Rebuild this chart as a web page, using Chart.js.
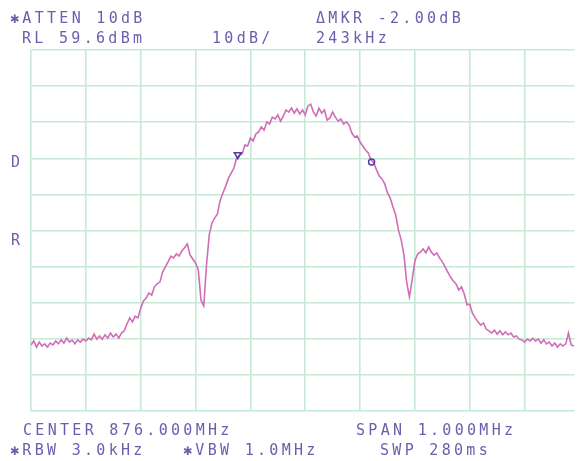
<!DOCTYPE html>
<html>
<head>
<meta charset="utf-8">
<script src="https://cdn.jsdelivr.net/npm/chart.js@4"></script>
<style>
  html, body { margin: 0; padding: 0; background: #fff; overflow: hidden; }
  #wrap { position: relative; width: 580px; height: 461px; }
  #spec { position: absolute; left: 0; top: 0; }
  .t {
    position: absolute;
    font-family: "DejaVu Sans Mono", monospace;
    font-size: 15px;
    letter-spacing: 3.3px;
    color: #6f5cae;
    white-space: pre;
    line-height: 1;
  }
</style>
</head>
<body>
<div id="wrap">
  <canvas id="spec" width="580" height="461"></canvas>
  <div class="t" style="left:10px;top:11px">✱ATTEN 10dB</div>
  <div class="t" style="left:316px;top:11px">ΔMKR -2.00dB</div>
  <div class="t" style="left:22px;top:31px">RL 59.6dBm</div>
  <div class="t" style="left:212px;top:31px">10dB/</div>
  <div class="t" style="left:316px;top:31px">243kHz</div>
  <div class="t" style="left:11px;top:155px">D</div>
  <div class="t" style="left:11px;top:233px">R</div>
  <div class="t" style="left:23px;top:423px">CENTER 876.000MHz</div>
  <div class="t" style="left:356px;top:423px">SPAN 1.000MHz</div>
  <div class="t" style="left:10px;top:443px">✱RBW 3.0kHz</div>
  <div class="t" style="left:183px;top:443px">✱VBW 1.0MHz</div>
  <div class="t" style="left:380px;top:443px">SWP 280ms</div>
</div>
<script>
// sweep: 875.5 MHz .. visible right edge, one point every 5 kHz
const sweepStart = 875.5;
const sweepStep = 0.005;

// trace level in dBm
const levels = [
  -22.1, -21.0, -22.7, -21.3, -22.4, -21.8, -22.7, -21.6, -22.1, -21.0,
  -21.8, -20.7, -21.6, -20.2, -21.3, -20.7, -21.8, -20.7, -21.3, -20.5,
  -21.0, -20.2, -20.7, -19.1, -20.5, -19.6, -20.5, -19.3, -20.2, -18.8,
  -19.9, -19.1, -20.2, -18.8, -18.2, -16.3, -14.6, -15.7, -14.1, -14.6,
  -11.9, -9.9, -9.1, -7.7, -8.3, -6.0, -5.2, -4.7, -1.9, -0.5,
  0.9, 2.5, 2.0, 3.1, 2.5, 3.9, 4.8, 5.9, 2.8, 1.7,
  0.6, -1.3, -9.7, -11.3, 0.0, 8.4, 11.7, 13.1, 14.2, 18.0,
  20.0, 21.9, 24.1, 25.5, 26.9, 29.7, 30.5, 30.8, 33.3, 33.0,
  35.2, 34.4, 36.3, 36.9, 38.3, 37.4, 39.7, 39.1, 41.0, 40.5,
  41.6, 39.9, 41.3, 43.0, 42.4, 43.5, 42.1, 43.3, 41.9, 43.0,
  41.6, 44.1, 44.6, 42.4, 41.3, 43.5, 42.1, 43.0, 40.2, 40.8,
  42.4, 41.0, 39.9, 40.5, 39.1, 39.7, 38.8, 36.6, 35.5, 35.8,
  34.1, 33.0, 31.9, 31.1, 29.1, 28.3, 26.4, 24.7, 23.9, 22.5,
  20.0, 18.6, 16.1, 13.9, 9.7, 7.0, 2.8, -4.7, -8.8, -4.1,
  1.2, 3.1, 3.6, 4.5, 3.4, 5.0, 3.6, 2.8, 3.4, 2.0,
  0.9, -0.5, -1.9, -3.3, -4.4, -5.2, -6.9, -6.0, -8.0, -11.0,
  -10.8, -13.3, -14.6, -15.7, -16.6, -16.0, -17.7, -18.2, -18.8, -18.0,
  -19.1, -18.2, -19.3, -18.5, -19.3, -18.8, -19.9, -19.6, -20.5, -20.7,
  -21.3, -20.5, -21.0, -20.2, -21.0, -20.5, -21.6, -20.7, -21.8, -21.3,
  -22.4, -21.6, -22.7, -21.8, -22.4, -21.8, -18.8, -22.1, -22.4
];

// markers: reference (triangle) and delta (circle)
const markerFreqs = [875.877, 876.121];
const markerLevels = [30.6, 28.6];

// graticule
const freqTicks = [875.5, 875.6, 875.7, 875.8, 875.9, 876.0, 876.1, 876.2, 876.3, 876.4];
const levelTicks = [-40.4, -30.4, -20.4, -10.4, -0.4, 9.6, 19.6, 29.6, 39.6, 49.6, 59.6];

const trace = levels.map((v, i) => ({ x: sweepStart + i * sweepStep, y: v }));
const markers = markerFreqs.map((f, i) => ({ x: f, y: markerLevels[i] }));

const gridColor = '#c6e9d5';

new Chart(document.getElementById('spec'), {
  type: 'line',
  data: {
    datasets: [
      {
        data: markers,
        showLine: false,
        pointStyle: ['triangle', 'circle'],
        rotation: [180, 0],
        pointRadius: [4, 3],
        pointBorderWidth: 1.5,
        pointBorderColor: '#4e3d9e',
        pointBackgroundColor: 'rgba(0,0,0,0)'
      },
      {
        data: trace,
        borderColor: '#d06db6',
        borderWidth: 1.6,
        pointRadius: 0,
        tension: 0,
        fill: false
      }
    ]
  },
  options: {
    responsive: false,
    animation: false,
    layout: { padding: { left: 31, top: 50, right: 0, bottom: 50 } },
    plugins: {
      legend: { display: false },
      tooltip: { enabled: false }
    },
    scales: {
      x: {
        type: 'linear',
        min: 875.5,
        max: 876.491,
        afterBuildTicks: (axis) => { axis.ticks = freqTicks.map(v => ({ value: v })); },
        ticks: { display: false },
        grid: { color: gridColor, lineWidth: 1.6, drawTicks: false },
        border: { display: false }
      },
      y: {
        min: -40.4,
        max: 59.6,
        afterBuildTicks: (axis) => { axis.ticks = levelTicks.map(v => ({ value: v })); },
        ticks: { display: false },
        grid: { color: gridColor, lineWidth: 1.6, drawTicks: false },
        border: { display: false }
      }
    }
  }
});
</script>
</body>
</html>
